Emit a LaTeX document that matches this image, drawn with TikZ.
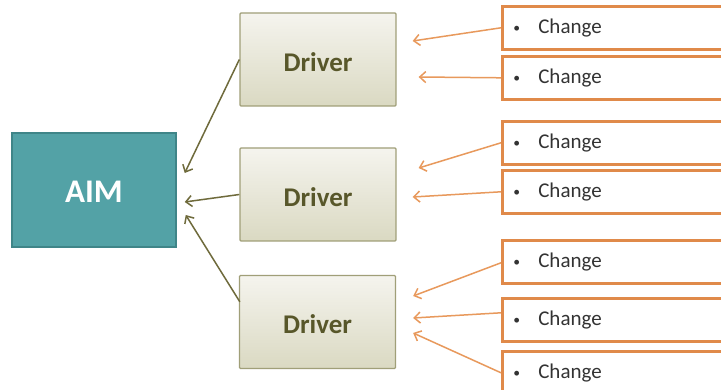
\documentclass[tikz,border=0pt]{standalone}
\usepackage{fontspec}
\setmainfont{Carlito}
\usetikzlibrary{arrows.meta,calc}
\definecolor{aimfill}{HTML}{53A2A6}
\definecolor{aimdraw}{HTML}{3F8588}
\definecolor{drvtop}{HTML}{F5F4EE}
\definecolor{drvbot}{HTML}{DAD9C2}
\definecolor{drvdraw}{HTML}{A09F78}
\definecolor{drvtext}{HTML}{58572A}
\definecolor{olive}{HTML}{6F6B3C}
\definecolor{chgdraw}{HTML}{E08A4A}
\definecolor{chgarrow}{HTML}{E8995C}
\tikzset{
  aimbox/.style={draw=aimdraw, line width=1.5pt, fill=aimfill, minimum width=164pt, minimum height=114pt,
    text=white, font=\fontsize{33}{36}\selectfont\bfseries, inner sep=0pt, text height=26pt, text depth=0pt},
  drvbox/.style={draw=drvdraw, line width=1.3pt, rounded corners=1pt, top color=drvtop, bottom color=drvbot,
    minimum width=156pt, minimum height=93pt, text=drvtext, font=\fontsize{27}{30}\selectfont\bfseries,
    inner sep=0pt, text height=24pt, text depth=0pt},
  chgbox/.style={draw=chgdraw, line width=2.6pt, anchor=north west, minimum width=250pt, minimum height=43pt,
    text width=228pt, align=left, inner xsep=11pt, inner ysep=0pt, text=black!80,
    font=\fontsize{21}{24}\selectfont},
  oarrow/.style={draw=olive, line width=1.5pt, -{Straight Barb[length=6pt,width=11pt,line width=1.5pt]}},
  carrow/.style={draw=chgarrow, line width=1.5pt, -{Straight Barb[length=6pt,width=11pt,line width=1.5pt]}},
}
\newcommand{\chg}{\makebox[25pt][l]{\raisebox{1pt}{\scalebox{0.65}{\textbullet}}}Change}
\begin{document}
\begin{tikzpicture}[x=1pt,y=-1pt]
\clip (0,0) rectangle (721,390);
\fill[white] (0,0) rectangle (721,390);
\node[aimbox] (aim) at (94,190) {AIM};
\node[drvbox] (d1) at (318,59.5) {Driver};
\node[drvbox] (d2) at (318,194.5) {Driver};
\node[drvbox] (d3) at (317.5,322) {Driver};
\node[chgbox] (c1) at (501,5) {\chg};
\node[chgbox] (c2) at (501,55) {\chg};
\node[chgbox] (c3) at (501,120) {\chg};
\node[chgbox] (c4) at (501,169) {\chg};
\node[chgbox] (c5) at (501,239) {\chg};
\node[chgbox] (c6) at (501,297) {\chg};
\node[chgbox] (c7) at (501,350) {\chg};
% drivers to aim
\draw[oarrow] (d1.west) -- ($(aim.east)+(8,-17)$);
\draw[oarrow] (d2.west) -- ($(aim.east)+(8,12)$);
\draw[oarrow] ($(d3.north west)+(1,27)$) -- ($(aim.east)+(9,25)$);
% changes to drivers
\draw[carrow] (c1.west) -- ($(d1.east)+(16,-18.5)$);
\draw[carrow] (c2.west) -- ($(d1.east)+(22,17.5)$);
\draw[carrow] (c3.west) -- ($(d2.east)+(22,-26.5)$);
\draw[carrow] (c4.west) -- ($(d2.east)+(16,2.5)$);
\draw[carrow] ($(c5.west)+(0,1)$) -- ($(d3.east)+(17,-26)$);
\draw[carrow] ($(c6.west)+(0,-7)$) -- ($(d3.east)+(17,-4)$);
\draw[carrow] (c7.west) -- ($(d3.east)+(17,11)$);
\end{tikzpicture}
\end{document}
